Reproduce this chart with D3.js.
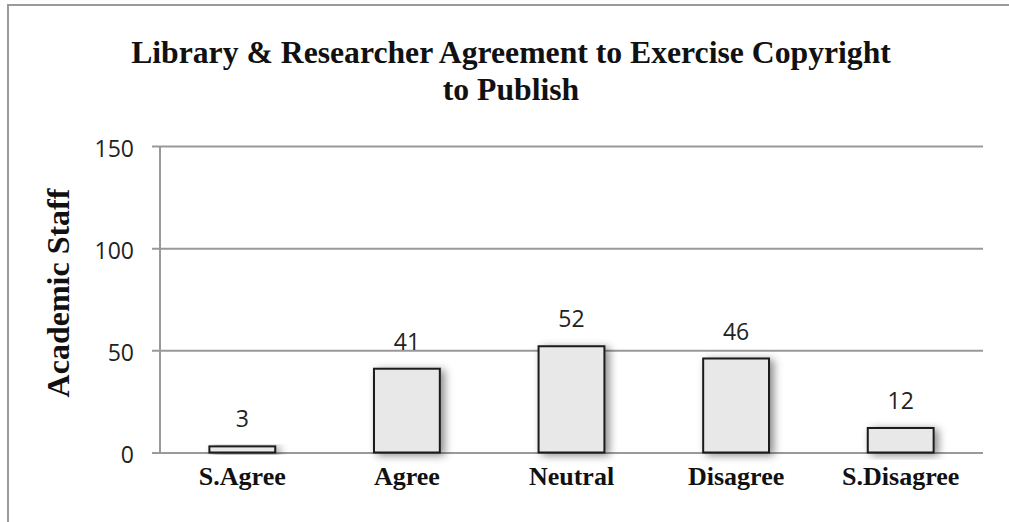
<!DOCTYPE html>
<html>
<head>
<meta charset="utf-8">
<script src="https://cdn.jsdelivr.net/npm/d3@7"></script>
<style>
  html, body { margin: 0; padding: 0; background: #fff; }
  svg { display: block; }
</style>
</head>
<body>
<svg id="chart" width="1009" height="522"></svg>
<script>
// Survey responses: academic staff agreement with the statement
const categories = ["S.Agree", "Agree", "Neutral", "Disagree", "S.Disagree"];
const staffCounts = [3, 41, 52, 46, 12];
const yTicks = [0, 50, 100, 150];
const titleLines = ["Library & Researcher Agreement to Exercise Copyright", "to Publish"];
const yAxisTitle = "Academic Staff";

const width = 1009, height = 522;
const plotLeft = 160, plotRight = 983;

const svg = d3.select("#chart");

// soft shadow behind each bar
const defs = svg.append("defs");
const shadow = defs.append("filter")
  .attr("id", "barShadow")
  .attr("x", "-30%").attr("y", "-30%")
  .attr("width", "160%").attr("height", "160%");
shadow.append("feDropShadow")
  .attr("dx", 4).attr("dy", 2)
  .attr("stdDeviation", 4)
  .attr("flood-color", "#000")
  .attr("flood-opacity", 0.45);

// outer frame (top and left edges)
svg.append("path")
  .attr("d", `M8,${height} L8,5 L${width},5`)
  .attr("fill", "none")
  .attr("stroke", "#9a9a9a")
  .attr("stroke-width", 2);

const x = d3.scaleBand()
  .domain(categories)
  .range([plotLeft, plotRight])
  .paddingInner(0.6)
  .paddingOuter(0.3);

const y = d3.scaleLinear()
  .domain([0, 150])
  .range([452.5, 146]);

// horizontal gridlines with short tick stubs on the left
const yAxis = d3.axisLeft(y)
  .tickValues(yTicks)
  .tickSize(-(plotRight - plotLeft))
  .tickPadding(26)
  .tickFormat(d3.format("d"));

const gy = svg.append("g")
  .attr("transform", `translate(${plotLeft},0)`)
  .call(yAxis);
gy.select(".domain").remove();
gy.selectAll(".tick line")
  .attr("x1", -8)
  .attr("stroke", "#999")
  .attr("stroke-width", 2);
gy.selectAll(".tick text")
  .attr("x", -26)
  .attr("fill", "#222")
  .style("font-family", "'Open Sans', 'Liberation Sans', sans-serif")
  .style("font-size", "23px")
  .attr("dy", "0.45em");

// vertical axis line
svg.append("line")
  .attr("x1", plotLeft).attr("x2", plotLeft)
  .attr("y1", y(150)).attr("y2", y(0))
  .attr("stroke", "#999")
  .attr("stroke-width", 2);

// bars
svg.append("g")
  .selectAll("rect")
  .data(staffCounts)
  .join("rect")
  .attr("x", (d, i) => x(categories[i]))
  .attr("y", d => y(d))
  .attr("width", x.bandwidth())
  .attr("height", d => y(0) - y(d))
  .attr("fill", "#e8e8e8")
  .attr("stroke", "#1a1a1a")
  .attr("stroke-width", 2)
  .attr("filter", "url(#barShadow)");

// value labels above bars
svg.append("g")
  .selectAll("text")
  .data(staffCounts)
  .join("text")
  .attr("x", (d, i) => x(categories[i]) + x.bandwidth() / 2)
  .attr("y", d => y(d) - 19)
  .attr("text-anchor", "middle")
  .attr("fill", "#222")
  .style("font-family", "'Open Sans', 'Liberation Sans', sans-serif")
  .style("font-size", "23px")
  .text(d => d);

// category labels
const xAxis = d3.axisBottom(x).tickSize(0).tickPadding(0);
const gx = svg.append("g")
  .attr("transform", `translate(0,${y(0)})`)
  .call(xAxis);
gx.select(".domain").remove();
gx.selectAll(".tick text")
  .attr("y", 32)
  .attr("dy", 0)
  .attr("fill", "#111")
  .style("font-family", "'Liberation Serif', 'Times New Roman', serif")
  .style("font-weight", "bold")
  .style("font-size", "26px");

// chart title
svg.append("text")
  .attr("text-anchor", "middle")
  .attr("fill", "#111")
  .style("font-family", "'Liberation Serif', 'Times New Roman', serif")
  .style("font-weight", "bold")
  .style("font-size", "31.7px")
  .selectAll("tspan")
  .data(titleLines)
  .join("tspan")
  .attr("x", 511)
  .attr("y", (d, i) => 63 + i * 37)
  .text(d => d);

// y-axis title
svg.append("text")
  .attr("transform", `translate(69,293) rotate(-90)`)
  .attr("text-anchor", "middle")
  .attr("fill", "#111")
  .style("font-family", "'Liberation Serif', 'Times New Roman', serif")
  .style("font-weight", "bold")
  .style("font-size", "32px")
  .text(yAxisTitle);
</script>
</body>
</html>
